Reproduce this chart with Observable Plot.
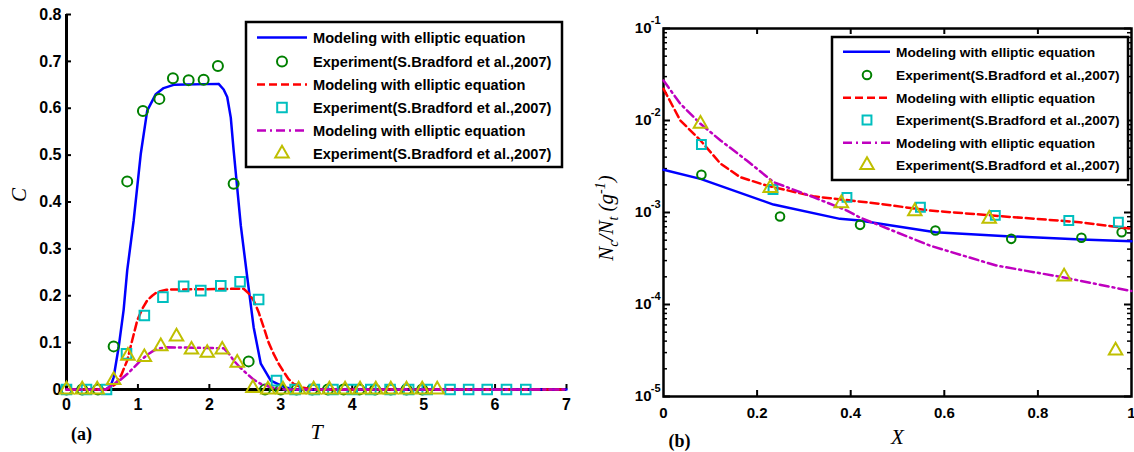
<!DOCTYPE html>
<html><head><meta charset="utf-8">
<script src="https://cdn.jsdelivr.net/npm/d3@7"></script>
<script src="https://cdn.jsdelivr.net/npm/@observablehq/plot@0.6"></script>
<style>
body{margin:0;background:#fff}
#wrap{position:relative;width:1134px;height:452px;overflow:hidden;background:#fff}
.panel{position:absolute;top:0}
</style>
</head><body>
<div id="wrap"><div id="pa" class="panel" style="left:0;width:580px"></div><div id="pb" class="panel" style="left:580px;width:554px"></div></div>
<script>
// ---------- Data: panel (a) ----------
const xTicksA = [0, 1, 2, 3, 4, 5, 6, 7];
const yTicksA = [0, 0.1, 0.2, 0.3, 0.4, 0.5, 0.6, 0.7, 0.8];
const modelA1 = [[0,0],[0.55,0],[0.62,0.008],[0.66,0.026],[0.73,0.09],[0.8,0.17],[0.85,0.254],[0.94,0.36],[1.04,0.503],[1.13,0.595],[1.25,0.63],[1.36,0.643],[1.5,0.65],[2.13,0.652],[2.2,0.64],[2.25,0.624],[2.3,0.58],[2.34,0.51],[2.44,0.35],[2.53,0.24],[2.62,0.133],[2.72,0.055],[2.86,0.019],[3.05,0.005],[3.2,0],[7,0]];
const modelA2 = [[0,0],[0.55,0],[0.62,0.004],[0.69,0.012],[0.77,0.032],[0.85,0.062],[0.92,0.105],[0.99,0.147],[1.06,0.172],[1.13,0.19],[1.2,0.2],[1.27,0.208],[1.4,0.213],[2.48,0.215],[2.55,0.205],[2.62,0.19],[2.69,0.165],[2.76,0.133],[2.83,0.1],[2.9,0.076],[2.97,0.055],[3.04,0.038],[3.11,0.022],[3.18,0.012],[3.3,0.004],[3.45,0],[7,0]];
const modelA3 = [[0,0],[0.55,0],[0.66,0.012],[0.75,0.02],[0.85,0.033],[0.95,0.048],[1.04,0.062],[1.13,0.074],[1.22,0.083],[1.31,0.088],[1.41,0.09],[2.2,0.088],[2.27,0.077],[2.34,0.062],[2.43,0.047],[2.53,0.033],[2.62,0.021],[2.72,0.012],[2.9,0.003],[3.05,0],[7,0]];
const expA1T = [0,0.22,0.44,0.66,0.85,1.07,1.3,1.49,1.71,1.92,2.12,2.34,2.55,2.78,3.0,3.22,3.44,3.66,3.88,4.1,4.32,4.54,4.76,4.98];
const expA1C = [0,0,0,0.092,0.444,0.594,0.62,0.664,0.66,0.661,0.69,0.439,0.06,0,0,0,0,0,0,0,0,0,0,0];
const expA2T = [0,0.28,0.56,0.84,1.09,1.35,1.64,1.88,2.16,2.43,2.69,2.94,3.2,3.47,3.73,4.0,4.26,4.53,4.79,5.05,5.37,5.63,5.89,6.16,6.43];
const expA2C = [0,0,0,0.076,0.158,0.197,0.22,0.211,0.221,0.23,0.192,0.019,0,0,0,0,0,0,0,0,0,0,0,0,0];
const expA3T = [0,0.22,0.43,0.66,0.86,1.09,1.32,1.54,1.75,1.97,2.18,2.39,2.61,2.82,3.03,3.25,3.46,3.68,3.9,4.11,4.33,4.54,4.76,4.98,5.19];
const expA3C = [0,0,0,0.02,0.072,0.069,0.092,0.113,0.085,0.078,0.085,0.057,0.003,0,0,0,0,0,0,0,0,0,0,0,0];

// ---------- Data: panel (b) ----------
const xTicksB = [0, 0.2, 0.4, 0.6, 0.8, 1];
const yTicksB = [1e-5, 1e-4, 1e-3, 1e-2, 1e-1];
const modelB1 = [[0,0.00291],[0.079,0.00232],[0.235,0.00122],[0.377,0.000853],[0.42,0.000818],[0.463,0.000753],[0.581,0.000611],[0.743,0.00055],[0.893,0.000509],[1,0.000488]];
const modelB2 = [[0,0.0221],[0.036,0.01],[0.079,0.00607],[0.122,0.00339],[0.164,0.00242],[0.221,0.00196],[0.32,0.0015],[0.356,0.00143],[0.463,0.00124],[0.569,0.00105],[0.747,0.00089],[0.889,0.000785],[1,0.000665]];
const modelB3 = [[0,0.0272],[0.036,0.0152],[0.079,0.0092],[0.122,0.00607],[0.178,0.00367],[0.235,0.00214],[0.32,0.00147],[0.392,0.00105],[0.42,0.00088],[0.463,0.00072],[0.569,0.000437],[0.711,0.000265],[0.853,0.000198],[1,0.00014]];
const expB1X = [0.081,0.249,0.42,0.581,0.743,0.893,0.979];
const expB1Y = [0.00257,0.000906,0.000734,0.000637,0.000517,0.000531,0.00061];
const expB2X = [0.081,0.234,0.392,0.549,0.709,0.866,0.972];
const expB2Y = [0.00548,0.00178,0.00146,0.00114,0.00093,0.000819,0.000786];
const expB3X = [0.079,0.228,0.38,0.537,0.696,0.856,0.966];
const expB3Y = [0.0092,0.00184,0.00126,0.00103,0.000855,0.000201,0.0000316];

const legendLabels = ["Modeling with elliptic equation","Experiment(S.Bradford et al.,2007)","Modeling with elliptic equation","Experiment(S.Bradford et al.,2007)","Modeling with elliptic equation","Experiment(S.Bradford et al.,2007)"];

// ---------- Styles ----------
const BLUE = "#0000ff", RED = "#ff0000", MAG = "#bf00bf", GREEN = "#008000", CYAN = "#00bfbf", YEL = "#bfbf00";
const lineStyles = [{stroke: BLUE, dash: null}, {stroke: RED, dash: "8,4"}, {stroke: MAG, dash: "9,4,2,4"}];
const dotStyles = [{stroke: GREEN, symbol: "circle"}, {stroke: CYAN, symbol: "square"}, {stroke: YEL, symbol: "triangle"}];
const symMap = {circle: d3.symbolCircle, square: d3.symbolSquare, triangle: d3.symbolTriangle};

const pts = (xs, ys) => xs.map((x, i) => ({x, y: ys[i]}));
const pairs = a => a.map(([x, y]) => ({x, y}));

function lineMark(data, i) {
  return Plot.line(pairs(data), {x: "x", y: "y", stroke: lineStyles[i].stroke, strokeWidth: 2.5, strokeDasharray: lineStyles[i].dash, curve: "linear"});
}
function dotMark(xs, ys, i, r) {
  return Plot.dot(pts(xs, ys), {x: "x", y: "y", symbol: () => dotStyles[i].symbol, r, stroke: dotStyles[i].stroke, strokeWidth: 2, fill: "none"});
}

function drawLegend(svg, o) {
  const g = d3.select(svg).append("g").attr("text-anchor", "start");
  g.append("rect").attr("x", o.x0).attr("y", o.y0).attr("width", o.w).attr("height", o.h)
    .attr("fill", "#fff").attr("stroke", "#000").attr("stroke-width", 2.5);
  legendLabels.forEach((lab, k) => {
    const y = o.rows[k];
    const i = Math.floor(k / 2);
    if (k % 2 === 0) {
      g.append("line").attr("x1", o.l1).attr("x2", o.l2).attr("y1", y).attr("y2", y)
        .attr("stroke", lineStyles[i].stroke).attr("stroke-width", 2.5)
        .attr("stroke-dasharray", lineStyles[i].dash);
    } else {
      const r = o.r[i];
      g.append("path").attr("transform", `translate(${o.mx},${y})`)
        .attr("d", d3.symbol(symMap[dotStyles[i].symbol], Math.PI * r * r)())
        .attr("fill", "none").attr("stroke", dotStyles[i].stroke).attr("stroke-width", 2);
    }
    g.append("text").attr("x", o.tx).attr("y", y).attr("dy", "0.36em").attr("text-anchor", "start")
      .style("font", `bold ${o.fs}px 'Liberation Sans', Arial, sans-serif`).attr("fill", "#000").text(lab);
  });
}

// ---------- Panel (a) ----------
const WA = 580, HA = 452, mlA = 66, mrA = 14, mtA = 14, mbA = 63;
const pwA = WA - mlA - mrA, phA = HA - mtA - mbA;
const rA = [5, 5.4, 5];
const chartA = Plot.plot({
  width: WA, height: HA, marginLeft: mlA, marginRight: mrA, marginTop: mtA, marginBottom: mbA,
  style: "font: bold 16px 'Liberation Sans', Arial, sans-serif; background:#fff;",
  x: {domain: [0, 7]}, y: {domain: [0, 0.8]},
  marks: [
    Plot.axisX({ticks: xTicksA, tickSize: 0, tickPadding: 9, tickFormat: d => String(d), label: null}),
    Plot.axisY({ticks: yTicksA, tickSize: 0, tickPadding: 5, tickFormat: d => d === 0 ? "0" : d.toFixed(1), label: null}),
    Plot.ruleX(xTicksA, {x: d => d, insetTop: phA - 5, stroke: "#000", strokeWidth: 2}),
    Plot.ruleY(yTicksA, {y: d => d, insetRight: pwA - 5, stroke: "#000", strokeWidth: 2}),
    Plot.ruleX([0], {stroke: "#000", strokeWidth: 3}),
    Plot.ruleY([0], {stroke: "#000", strokeWidth: 3}),
    lineMark(modelA1, 0), dotMark(expA1T, expA1C, 0, rA[0]),
    lineMark(modelA2, 1), dotMark(expA2T, expA2C, 1, rA[1]),
    lineMark(modelA3, 2), dotMark(expA3T, expA3C, 2, rA[2]),
    Plot.text(["T"], {x: () => 3.5, frameAnchor: "bottom", dy: 42, lineAnchor: "middle", fontFamily: "'Liberation Serif', serif", fontStyle: "italic", fontWeight: "normal", fontSize: 22}),
    Plot.text(["C"], {y: () => 0.4, frameAnchor: "left", dx: -47, rotate: -90, lineAnchor: "middle", fontFamily: "'Liberation Serif', serif", fontStyle: "italic", fontWeight: "normal", fontSize: 21}),
    Plot.text(["(a)"], {x: () => 0.21, frameAnchor: "bottom", dy: 45, lineAnchor: "middle", fontFamily: "'Liberation Serif', serif", fontWeight: "bold", fontSize: 18})
  ]
});
drawLegend(chartA, {x0: 246, y0: 22, w: 316, h: 145, rows: [37.5, 61.5, 84.5, 107.5, 130.5, 153.5], l1: 257, l2: 307, mx: 282, tx: 313, fs: 14.6, r: rA});
document.getElementById("pa").appendChild(chartA);

// ---------- Panel (b) ----------
const WB = 554, HB = 452, mlB = 83, mrB = 3, mtB = 28, mbB = 56;
const pwB = WB - mlB - mrB, phB = HB - mtB - mbB;
const minorB = [];
for (let e = -5; e <= -2; e++) for (let k = 2; k <= 9; k++) minorB.push(k * Math.pow(10, e));
const xInner = xTicksB.filter(d => d > 0 && d < 1);
const rB = [4.3, 5, 5];
const chartB = Plot.plot({
  width: WB, height: HB, marginLeft: mlB, marginRight: mrB, marginTop: mtB, marginBottom: mbB,
  style: "font: bold 15px 'Liberation Sans', Arial, sans-serif; background:#fff;",
  x: {domain: [0, 1]}, y: {type: "log", domain: [1e-5, 1e-1], axis: null},
  marks: [
    Plot.axisX({ticks: xTicksB, tickSize: 0, tickPadding: 11, tickFormat: d => String(d), label: null}),
    Plot.text(yTicksB, {y: d => d, frameAnchor: "left", text: () => "10", textAnchor: "end", dx: -12, lineAnchor: "middle", fontSize: 15, fontWeight: "bold"}),
    Plot.text(yTicksB, {y: d => d, frameAnchor: "left", text: d => String(Math.round(Math.log10(d))), textAnchor: "end", dx: -3, dy: -8, lineAnchor: "middle", fontSize: 11, fontWeight: "bold"}),
    Plot.ruleX(xInner, {x: d => d, insetTop: phB - 6, stroke: "#000", strokeWidth: 2}),
    Plot.ruleX(xInner, {x: d => d, insetBottom: phB - 6, stroke: "#000", strokeWidth: 2}),
    Plot.ruleY(yTicksB, {y: d => d, insetRight: pwB - 7, stroke: "#000", strokeWidth: 2}),
    Plot.ruleY(yTicksB, {y: d => d, insetLeft: pwB - 7, stroke: "#000", strokeWidth: 2}),
    Plot.ruleY(minorB, {y: d => d, insetRight: pwB - 4, stroke: "#000", strokeWidth: 1.5}),
    Plot.ruleY(minorB, {y: d => d, insetLeft: pwB - 4, stroke: "#000", strokeWidth: 1.5}),
    Plot.frame({stroke: "#000", strokeWidth: 2.5}),
    lineMark(modelB1, 0), dotMark(expB1X, expB1Y, 0, rB[0]),
    lineMark(modelB2, 1), dotMark(expB2X, expB2Y, 1, rB[1]),
    lineMark(modelB3, 2), dotMark(expB3X, expB3Y, 2, rB[2]),
    Plot.text(["X"], {x: () => 0.5, frameAnchor: "bottom", dy: 41, lineAnchor: "middle", fontFamily: "'Liberation Serif', serif", fontStyle: "italic", fontWeight: "normal", fontSize: 21}),
    Plot.text(["(b)"], {x: () => 0.034, frameAnchor: "bottom", dy: 45, lineAnchor: "middle", fontFamily: "'Liberation Serif', serif", fontWeight: "bold", fontSize: 18})
  ]
});
// y-axis label with sub/superscripts
{
  const t = d3.select(chartB).append("text").attr("transform", "translate(33,218) rotate(-90)")
    .attr("text-anchor", "middle").style("font", "italic 21px 'Liberation Serif', serif").attr("fill", "#000");
  t.append("tspan").text("N");
  t.append("tspan").attr("dy", 5).attr("font-size", 14).text("c");
  t.append("tspan").attr("dy", -5).text("/N");
  t.append("tspan").attr("dy", 5).attr("font-size", 14).text("t");
  t.append("tspan").attr("dy", -5).text(" (g");
  t.append("tspan").attr("dy", -8).attr("font-size", 14).text("-1");
  t.append("tspan").attr("dy", 8).text(")");
}
drawLegend(chartB, {x0: 252, y0: 37, w: 296, h: 143, rows: [51.7, 75, 97.7, 120, 142.7, 165], l1: 263, l2: 310, mx: 287, tx: 316, fs: 13.7, r: rB});
document.getElementById("pb").appendChild(chartB);
</script>
</body></html>
